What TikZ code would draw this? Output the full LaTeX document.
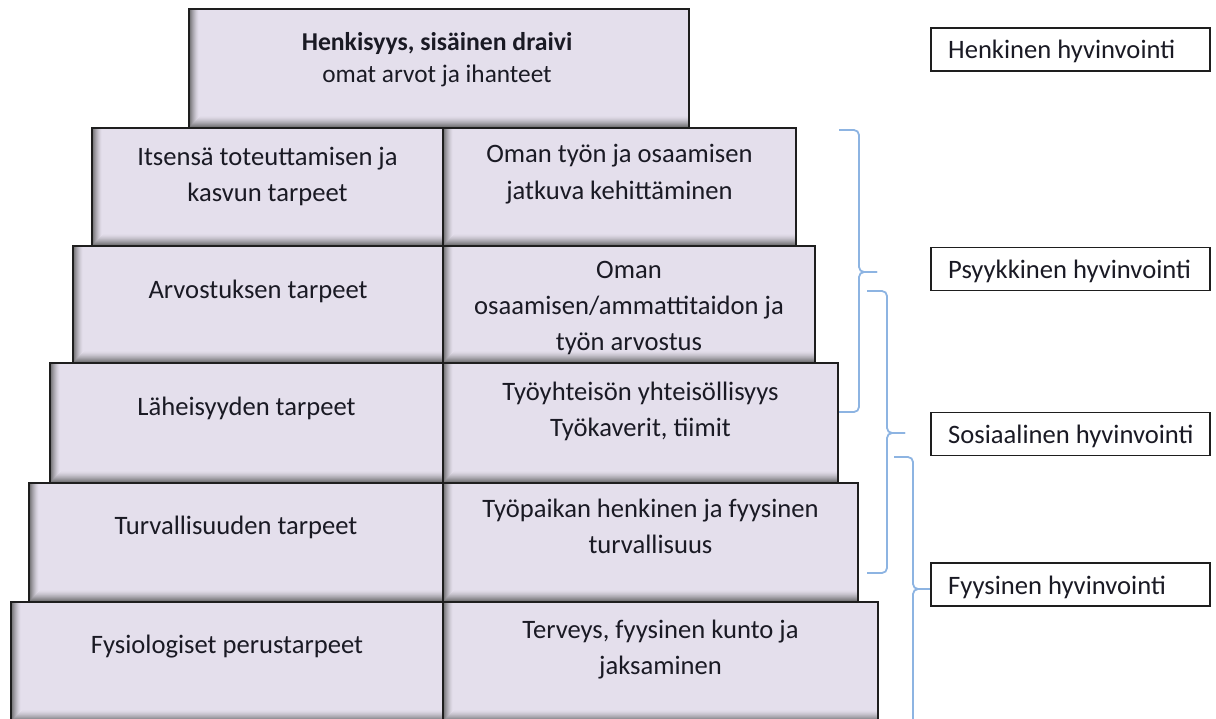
\documentclass[tikz,border=0pt]{standalone}
\usepackage{fontspec}
\setmainfont{Carlito}
\definecolor{boxfill}{HTML}{E4DFEC}
\definecolor{edgeshade}{HTML}{555555}
\definecolor{boxline}{HTML}{1E1E1E}
\definecolor{bracecol}{HTML}{8DB4E2}
\definecolor{inktext}{HTML}{1A1A24}

% one pyramid tier: name, left, top, right, bottom (picture units)
\newcommand\tierbox[5]{%
  \node[tier, minimum width={#4-#2}, minimum height={#5-#3}] (#1)
    at ({(#2+#4)/2},{(#3+#5)/2}) {};}
% one text line set on its baseline
\newcommand\txtline[4]{\node[txt] (#1) at (#2,#3) {#4};}

\begin{document}
\begin{tikzpicture}[x=1pt,y=-1pt,
  tier/.style={draw=boxline, line width=1.4pt, fill=boxfill, inner sep=0pt, outer sep=0pt,
    path picture={
      % inner shadow along the left edge
      \foreach \i in {0,...,9}{
        \pgfmathtruncatemacro\pc{85*(1-\i/10)^1.5}
        \fill[edgeshade!\pc!boxfill]
          ([xshift=\i pt]path picture bounding box.south west) rectangle
          ([xshift=\i pt+1.05pt]path picture bounding box.north west);
      }
      % inner shadow along the bottom edge
      \foreach \i in {0,...,11}{
        \pgfmathtruncatemacro\pc{85*(1-\i/12)^1.5}
        \fill[edgeshade!\pc!boxfill]
          ([xshift=\i pt, yshift=\i pt]path picture bounding box.south west) rectangle
          ([yshift=\i pt+1.05pt]path picture bounding box.south east);
      }
    }},
  txt/.style={font=\fontsize{26.6}{30}\selectfont, text=inktext, inner sep=0pt, anchor=base},
  lefttxt/.style={txt, anchor=base west},
  tag/.style={draw=boxline, line width=1.2pt, fill=white, inner sep=0pt, minimum width=279pt, minimum height=43pt},
  brace/.style={draw=bracecol, line width=1.8pt, rounded corners=5pt},
]
\useasboundingbox (0,0) rectangle (1216,718);
\clip (0,0) rectangle (1216,718);

% pyramid tiers, bottom row first
\tierbox{r5l}{11}{602}{443}{722}
\tierbox{r5r}{443}{602}{878}{722}
\tierbox{r4l}{29}{483}{443}{602}
\tierbox{r4r}{443}{483}{858}{602}
\tierbox{r3l}{50}{363}{443}{483}
\tierbox{r3r}{443}{363}{838}{483}
\tierbox{r2l}{73}{246}{443}{363}
\tierbox{r2r}{443}{246}{815}{363}
\tierbox{r1l}{92}{128}{443}{246}
\tierbox{r1r}{443}{128}{796}{246}
\tierbox{top}{189}{9}{689}{128}

% apex
\node[txt, font=\fontsize{25.7}{30}\selectfont\bfseries] (topa) at (437,50) {Henkisyys, sisäinen draivi};
\node[txt, font=\fontsize{25.3}{30}\selectfont] (topb) at (437,82) {omat arvot ja ihanteet};

% needs column
\txtline{r1la}{267.5}{165}{Itsensä toteuttamisen ja}
\txtline{r1lb}{267.5}{201}{kasvun tarpeet}
\txtline{r2la}{258}{298}{Arvostuksen tarpeet}
\txtline{r3la}{246.5}{415}{Läheisyyden tarpeet}
\txtline{r4la}{236}{534}{Turvallisuuden tarpeet}
\txtline{r5la}{227}{653}{Fysiologiset perustarpeet}

% workplace column
\txtline{r1ra}{619.5}{162}{Oman työn ja osaamisen}
\txtline{r1rb}{619.5}{199}{jatkuva kehittäminen}
\txtline{r2ra}{629}{278}{Oman}
\txtline{r2rb}{629}{314}{osaamisen/ammattitaidon ja}
\txtline{r2rc}{629}{350}{työn arvostus}
\txtline{r3ra}{640.5}{400}{Työyhteisön yhteisöllisyys}
\txtline{r3rb}{640.5}{436}{Työkaverit, tiimit}
\txtline{r4ra}{650.5}{517}{Työpaikan henkinen ja fyysinen}
\txtline{r4rb}{650.5}{553}{turvallisuus}
\txtline{r5ra}{660.5}{638}{Terveys, fyysinen kunto ja}
\txtline{r5rb}{660.5}{674}{jaksaminen}

% braces grouping the tiers
\draw[brace] (839,130) -- (859,130) -- (859,272) -- (877,272);
\draw[brace] (877,272) -- (859,272) -- (859,412) -- (839,412);
\draw[brace] (867,291) -- (887,291) -- (887,433) -- (905,433);
\draw[brace] (905,433) -- (887,433) -- (887,573) -- (867,573);
\draw[brace] (894,457) -- (913,457) -- (913,589) -- (932,589);
\draw[brace] (932,589) -- (913,589) -- (913,740);

% well-being tags
\node[tag] (henk) at (1070.5,49.5) {};
\node[tag] (psyk) at (1070.5,269) {};
\node[tag] (sos)  at (1070.5,434) {};
\node[tag] (fyys) at (1070.5,584.5) {};
\node[lefttxt] (henkt) at (948,58)  {Henkinen hyvinvointi};
\node[lefttxt] (psykt) at (948,278) {Psyykkinen hyvinvointi};
\node[lefttxt] (sost)  at (948,443) {Sosiaalinen hyvinvointi};
\node[lefttxt] (fyyst) at (948,594) {Fyysinen hyvinvointi};
\end{tikzpicture}
\end{document}
